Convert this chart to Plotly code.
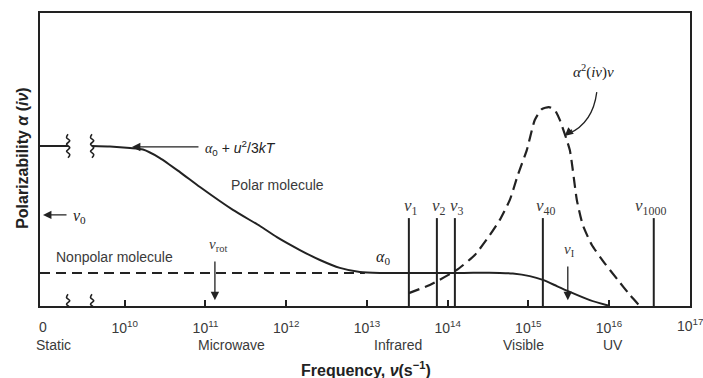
import plotly.graph_objects as go

# ---- data (x = log10 of frequency, y = polarizability in arbitrary units 0..100) ----
x_range = [8.95, 17.003]
y_range = [0, 100]

tick_vals = [10, 11, 12, 13, 14, 15, 16, 17]
tick_text = ["10<sup>10</sup>", "10<sup>11</sup>", "10<sup>12</sup>", "10<sup>13</sup>",
             "10<sup>14</sup>", "10<sup>15</sup>", "10<sup>16</sup>", "10<sup>17</sup>"]

regions = ["Static", "Microwave", "Infrared", "Visible", "UV"]
region_x = [9.123, 11.328, 13.384, 14.944, 16.046]

# polar molecule (solid)
polar_left_x = [8.95, 9.297]
polar_left_y = [54.6, 54.6]
polar_x = [9.594, 9.817, 10.065, 10.226, 10.436, 10.684, 10.932, 11.340, 11.675, 11.885,
           12.170, 12.418, 12.665, 12.913, 13.161, 13.7, 14.2, 14.647, 14.808, 15.018,
           15.180, 15.353, 15.514, 15.762, 16.009]
polar_y = [54.6, 54.4, 53.9, 53.4, 50.5, 45.7, 40.6, 32.8, 27.3, 23.5,
           19.1, 15.7, 13.0, 11.6, 11.3, 11.3, 11.3, 11.3, 11.1, 10.2,
           8.9, 6.8, 4.8, 2.0, 0.0]

# nonpolar molecule (dashed)
nonpolar_x = [8.95, 12.975]
nonpolar_y = [11.3, 11.3]

# alpha^2(i nu) nu (dashed)
a2_x = [13.520, 13.780, 14.114, 14.337, 14.523, 14.647, 14.771, 14.870, 14.981, 15.080,
        15.167, 15.254, 15.328, 15.390, 15.514, 15.601, 15.675, 15.787, 15.935, 16.108,
        16.257, 16.381]
a2_y = [4.4, 7.2, 12.3, 17.4, 24.2, 29.4, 36.2, 44.7, 53.2, 63.5,
        67.2, 67.9, 66.9, 63.5, 53.2, 36.2, 27.6, 20.8, 15.0, 8.9,
        3.8, 0.0]

# sampling frequencies nu_n
nu_names = ["1", "2", "3", "40", "1000"]
nu_x = [13.520, 13.867, 14.090, 15.180, 16.554]
nu_top = 30.0
nu_label_shift = [2, 2, 2, 3, -3]

# break marks
break_x = [9.297, 9.594]
break_y = [54.6, 0.0]
squig_dx = [0.0, 0.022, -0.018, 0.022, -0.018, 0.022, -0.018, 0.0]
squig_dy = [-4.0, -2.9, -1.8, -0.6, 0.6, 1.8, 2.9, 4.0]

# ---- figure ----
ink = "#222222"
txt = "#3a3a3a"
sans = "Liberation Sans, Arial, sans-serif"
serif = "Liberation Serif, Times New Roman, serif"

fig = go.Figure()

fig.add_trace(go.Scatter(x=nonpolar_x, y=nonpolar_y, mode="lines",
                         line=dict(color=ink, width=2, dash="10px,6px")))
fig.add_trace(go.Scatter(x=polar_left_x, y=polar_left_y, mode="lines",
                         line=dict(color=ink, width=2)))
fig.add_trace(go.Scatter(x=polar_x, y=polar_y, mode="lines",
                         line=dict(color=ink, width=2, shape="spline", smoothing=0.6)))
fig.add_trace(go.Scatter(x=a2_x, y=a2_y, mode="lines",
                         line=dict(color=ink, width=2.2, dash="11px,6px", shape="spline",
                                   smoothing=0.5)))

vx, vy = [], []
for xv in nu_x:
    vx += [xv, xv, None]
    vy += [0, nu_top, None]
fig.add_trace(go.Scatter(x=vx, y=vy, mode="lines", line=dict(color=ink, width=2)))

sx, sy = [], []
for bx in break_x:
    for by in break_y:
        sx += [bx + d for d in squig_dx] + [None]
        sy += [by + d for d in squig_dy] + [None]
fig.add_trace(go.Scatter(x=sx, y=sy, mode="lines", cliponaxis=False,
                         line=dict(color=ink, width=1.6, shape="spline")))

ann = []


def arrow(x, y, ax, ay):
    ann.append(dict(x=x, y=y, ax=ax, ay=ay, xref="x", yref="y", axref="x", ayref="y",
                    text="", showarrow=True, arrowhead=2, arrowsize=1.3, arrowwidth=1.3,
                    arrowcolor=ink))


def label(x, y, text, size=14, family=sans, color=txt, xanchor="center", xshift=0,
          xref="x", yref="y", angle=0):
    ann.append(dict(x=x, y=y, xref=xref, yref=yref, text=text, showarrow=False,
                    xanchor=xanchor, yanchor="middle", xshift=xshift, textangle=angle,
                    font=dict(size=size, family=family, color=color)))


# arrows
arrow(8.987, 31.1, 9.297, 31.1)          # nu_0
arrow(10.089, 54.3, 10.932, 54.3)        # alpha0 + u^2/3kT
arrow(11.117, 2.0, 11.117, 15.7)         # nu_rot
arrow(15.489, 2.0, 15.489, 14.0)         # nu_I
arrow(15.450, 58.0, 15.560, 60.6)        # alpha^2 head

label(9.445, 30.6, "<i>ν</i><sub>0</sub>", size=16, family=serif, color=ink)
label(10.969, 53.9,
      "<span style='font-family:Liberation Serif'><i>α</i></span><sub>0</sub>"
      " + <i>u</i><sup>2</sup>/3<i>kT</i>", size=14, xanchor="left", color=ink)
label(11.898, 41.3, "Polar molecule", size=14)
label(9.879, 16.7, "Nonpolar molecule", size=14)
label(13.198, 16.6, "<i>α</i><sub>0</sub>", size=16, family=serif, color=ink)
label(11.117, 20.8, "<i>ν</i><sub>rot</sub>", size=15, family=serif, xshift=3)
label(15.489, 19.1, "<i>ν</i><sub>I</sub>", size=15, family=serif, xshift=2)
label(15.811, 79.9, "<i>α</i><sup>2</sup>(<i>iν</i>)<i>ν</i>", size=15, family=serif,
      color=ink)
for nm, xv, sh in zip(nu_names, nu_x, nu_label_shift):
    label(xv, 33.8, "<i>ν</i><sub>" + nm + "</sub>", size=17, family=serif, xshift=sh)

# x tick "0", last tick label (cut by page edge), region names and axis titles
label(8.987, -0.072, "0", size=14, yref="paper")
label(tick_vals[-1], -0.064, tick_text[-1], size=14, yref="paper")
for nm, xv in zip(regions, region_x):
    label(xv, -0.133, nm, size=14, yref="paper")
label(12.987, -0.214, "<b>Frequency, <i>ν</i>(s<sup>−1</sup>)</b>", size=16, color=ink,
      yref="paper")
label(-0.028, 50.5, "<b>Polarizability <i>α</i> (<i>iν</i>)</b>", size=16, color=ink,
      xref="paper", angle=-90)

fig.update_layout(
    width=703, height=378,
    margin=dict(l=40, r=13, t=13, b=72),
    paper_bgcolor="white", plot_bgcolor="white",
    showlegend=False,
    annotations=ann,
    shapes=[dict(type="path", xref="x", yref="y",
                 path="M 15.848,73.0 Q 15.80,62.5 15.50,58.8",
                 line=dict(color=ink, width=1.3))],
    xaxis=dict(range=x_range, showgrid=False, zeroline=False, showline=True, mirror=True,
               linecolor=ink, linewidth=2, ticks="inside", ticklen=6, tickwidth=1.5,
               tickcolor=ink, tickvals=tick_vals[:-1], ticktext=tick_text[:-1],
               ticklabelstandoff=8, automargin=False,
               tickfont=dict(size=14, family=sans, color=txt)),
    yaxis=dict(range=y_range, showgrid=False, zeroline=False, showline=True, mirror=True,
               linecolor=ink, linewidth=2, ticks="", showticklabels=False,
               automargin=False),
)

fig.write_html("out.html")
